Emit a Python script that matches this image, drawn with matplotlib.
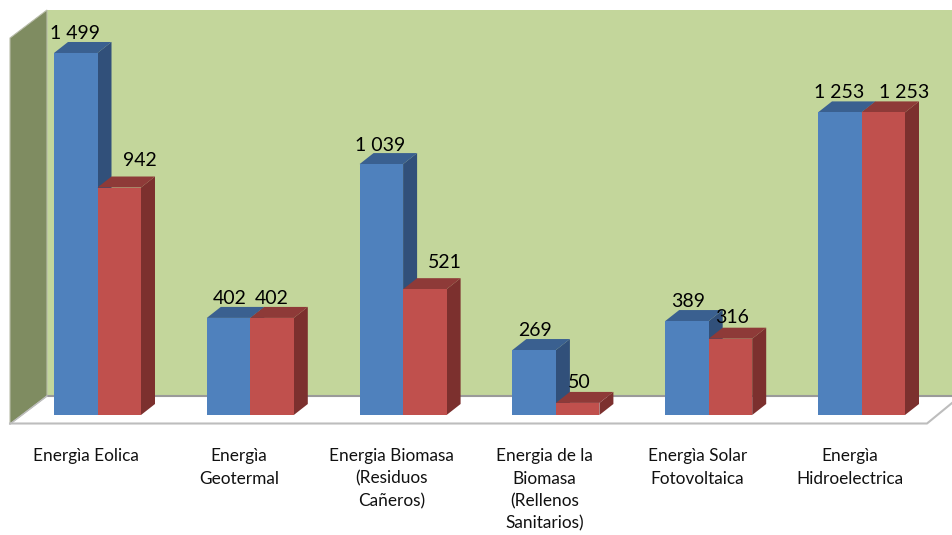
import matplotlib
matplotlib.use("Agg")
import matplotlib.pyplot as plt
from matplotlib.patches import Polygon

# === Data ===
categories = ["Energìa Eolica", "Energìa\nGeotermal", "Energia Biomasa\n(Residuos\nCañeros)",
              "Energia de la\nBiomasa\n(Rellenos\nSanitarios)", "Energìa Solar\nFotovoltaica",
              "Energìa\nHidroelectrica"]
blue_values = [1499, 402, 1039, 269, 389, 1253]
red_values = [942, 402, 521, 50, 316, 1253]
blue_labels = ["1 499", "402", "1 039", "269", "389", "1 253"]
red_labels = ["942", "402", "521", "50", "316", "1 253"]

# label nudges, in px from the bar top centre
blue_nudge = [(-1, 19), (1, 19), (-1, 19), (1, 20), (1, 20), (-1, 20)]
red_nudge = [(21, 27), (0, 19), (20, 27), (2, 20), (2, 21), (21, 20)]

plt.rcParams["font.family"] = ["Lato", "DejaVu Sans"]

fig = plt.figure(figsize=(9.52, 5.35), dpi=100, facecolor="white")

# === Chart box (pixel coords) ===
bg = fig.add_axes([0, 0, 1, 1])
bg.set_xlim(0, 952)
bg.set_ylim(535, 0)
bg.axis("off")
bg.add_patch(Polygon([(47, 10), (952, 10), (952, 396), (47, 396)], fc="#C3D69B", ec="none"))
bg.add_patch(Polygon([(10, 38), (47, 10), (47, 396), (10, 424)], fc="#7F8C61", ec="#B9BDAA", lw=0.8))
bg.plot([47, 952], [396, 396], color="#9A9A9A", lw=1.5)
bg.plot([10, 47], [424, 396], color="#BDBDBD", lw=1)
bg.plot([10, 927, 952], [423.5, 423.5, 403], color="#BDBDBD", lw=1.5)

# === Bars ===
px_x = 152.8
px_y = 0.2415
ax = fig.add_axes([0, 0, 1, 1])
ax.set_xlim(-97.5 / px_x, (952 - 97.5) / px_x)
ax.set_ylim(-(535 - 415) / px_y, 415 / px_y)
ax.axis("off")

w = 43.5 / px_x
dx = 14 / px_x
dy = 11 / px_y


def bar3d(x, h, front, side, top, z):
    ax.add_patch(Polygon([(x + w, 0), (x + w + dx, dy), (x + w + dx, h + dy), (x + w, h)],
                         fc=side, ec="none", zorder=z))
    ax.add_patch(Polygon([(x, h), (x + dx, h + dy), (x + w + dx, h + dy), (x + w, h)],
                         fc=top, ec="none", zorder=z))
    ax.bar(x, h, width=w, align="edge", color=front, zorder=z + 0.5)


for i in range(len(categories)):
    bar3d(i - w, blue_values[i], "#4F81BD", "#31507A", "#3A6090", 2 + i)
    bar3d(i, red_values[i], "#C0504D", "#7C302E", "#8E3A38", 2.6 + i)

    ax.annotate(blue_labels[i], (i - w / 2, blue_values[i]), xytext=(blue_nudge[i][0] * 0.72, blue_nudge[i][1] * 0.72),
                textcoords="offset points", ha="center", va="center", fontsize=14, color="black", zorder=20)
    ax.annotate(red_labels[i], (i + w / 2, red_values[i]), xytext=(red_nudge[i][0] * 0.72, red_nudge[i][1] * 0.72),
                textcoords="offset points", ha="center", va="center", fontsize=14, color="black", zorder=20)
    ax.annotate(categories[i], (i, 0), xytext=(-11.5 * 0.72, -33 * 0.72), textcoords="offset points",
                ha="center", va="top", fontsize=12.4, linespacing=1.5, color="#111111", zorder=20)

fig.savefig("out.png", dpi=100)
